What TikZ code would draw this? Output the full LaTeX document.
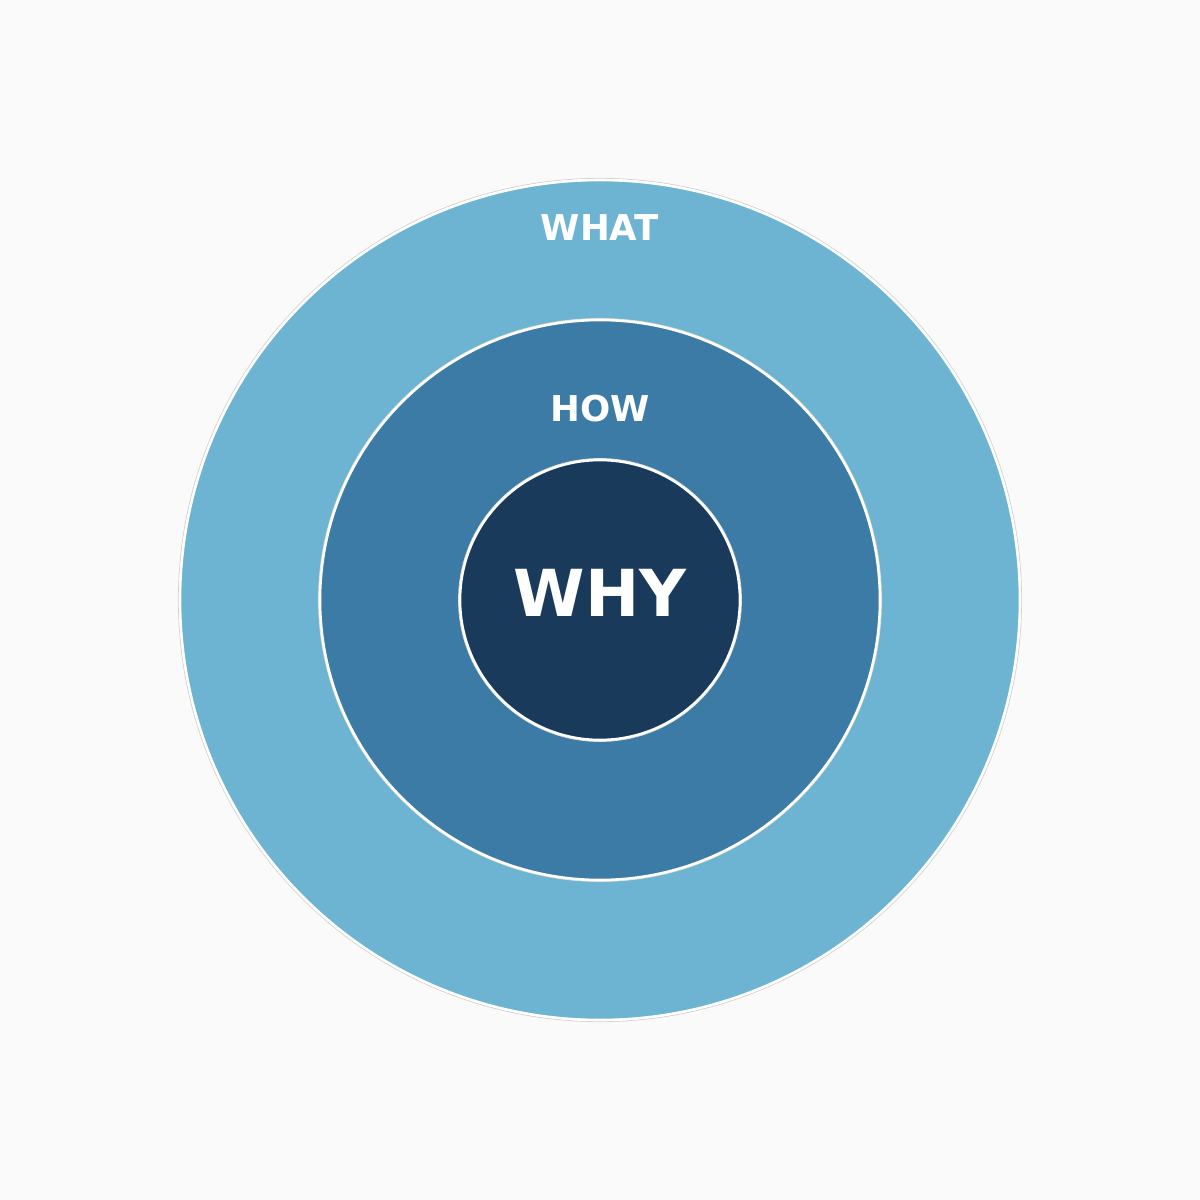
\documentclass[tikz,border=0pt]{standalone}
\usepackage{fontspec}
\setmainfont{DejaVu Sans}
\definecolor{bg}{HTML}{FAFAFA}
\definecolor{outerc}{HTML}{6CB4D1}
\definecolor{midc}{HTML}{3B7BA5}
\definecolor{innerc}{HTML}{1A3A5C}
\begin{document}
\begin{tikzpicture}[x=0.5pt,y=0.5pt,
  ring/.style={draw=white,line width=1.3pt},
  lbl/.style={text=white,anchor=base,inner sep=0pt}]
\fill[bg] (-600,-600) rectangle (600,600);
\useasboundingbox (-600,-600) rectangle (600,600);
\draw[gray!40,line width=0.5pt] (0,0) circle (421.5);
\filldraw[ring,fill=outerc] (0,0) circle (420);
\draw[gray!30,line width=0.4pt] (0,0) circle (281.5);
\filldraw[ring,fill=midc] (0,0) circle (280);
\draw[gray!30,line width=0.4pt] (0,0) circle (141.5);
\filldraw[ring,fill=innerc] (0,0) circle (140);
\node[lbl,font=\bfseries\fontsize{17.8}{21}\selectfont] (what) at (0,359) {WHAT};
\node[lbl,font=\bfseries\fontsize{17.8}{21}\selectfont] (how) at (0,178) {HOW};
\node[lbl,font=\bfseries\fontsize{32.4}{38}\selectfont] (why) at (0,-16) {WHY};
\end{tikzpicture}
\end{document}
